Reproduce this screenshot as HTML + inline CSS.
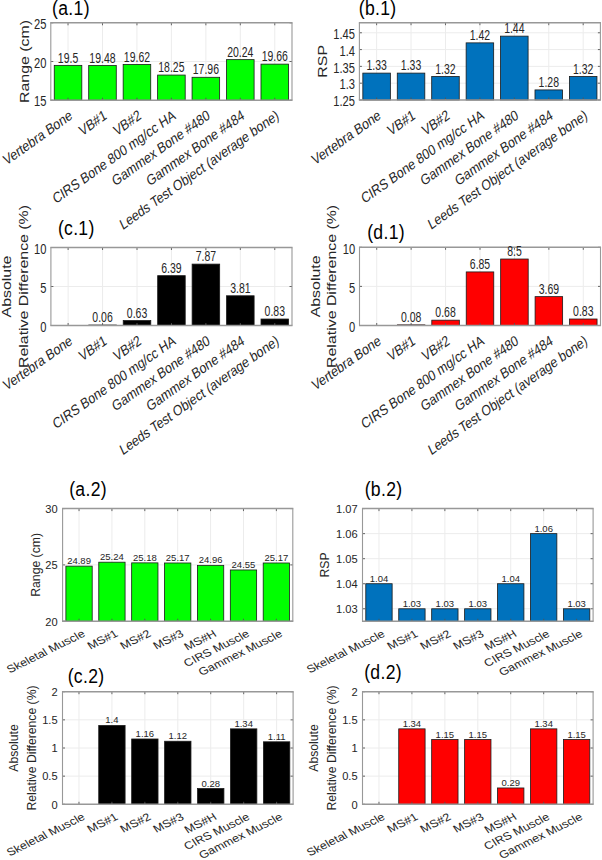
<!DOCTYPE html>
<html><head><meta charset="utf-8"><style>
html,body{margin:0;padding:0;background:#fff;width:602px;height:860px;overflow:hidden}
svg{display:block}
text{font-family:"Liberation Sans", sans-serif}
</style></head><body>
<svg width="602" height="860" viewBox="0 0 602 860">
<rect width="602" height="860" fill="#fff"/>
<line x1="68.03" y1="22.8" x2="68.03" y2="100.2" stroke="#ececec" stroke-width="1"/>
<line x1="102.49" y1="22.8" x2="102.49" y2="100.2" stroke="#ececec" stroke-width="1"/>
<line x1="136.94" y1="22.8" x2="136.94" y2="100.2" stroke="#ececec" stroke-width="1"/>
<line x1="171.4" y1="22.8" x2="171.4" y2="100.2" stroke="#ececec" stroke-width="1"/>
<line x1="205.86" y1="22.8" x2="205.86" y2="100.2" stroke="#ececec" stroke-width="1"/>
<line x1="240.31" y1="22.8" x2="240.31" y2="100.2" stroke="#ececec" stroke-width="1"/>
<line x1="274.77" y1="22.8" x2="274.77" y2="100.2" stroke="#ececec" stroke-width="1"/>
<line x1="50.8" y1="61.5" x2="292" y2="61.5" stroke="#ececec" stroke-width="1"/>
<rect x="54.25" y="65.37" width="27.57" height="34.83" fill="#00ff00" stroke="#1a1a1a" stroke-width="0.8"/>
<rect x="88.7" y="65.52" width="27.57" height="34.68" fill="#00ff00" stroke="#1a1a1a" stroke-width="0.8"/>
<rect x="123.16" y="64.44" width="27.57" height="35.76" fill="#00ff00" stroke="#1a1a1a" stroke-width="0.8"/>
<rect x="157.62" y="75.05" width="27.57" height="25.16" fill="#00ff00" stroke="#1a1a1a" stroke-width="0.8"/>
<rect x="192.07" y="77.29" width="27.57" height="22.91" fill="#00ff00" stroke="#1a1a1a" stroke-width="0.8"/>
<rect x="226.53" y="59.64" width="27.57" height="40.56" fill="#00ff00" stroke="#1a1a1a" stroke-width="0.8"/>
<rect x="260.99" y="64.13" width="27.57" height="36.07" fill="#00ff00" stroke="#1a1a1a" stroke-width="0.8"/>
<line x1="68.03" y1="100.2" x2="68.03" y2="97.7" stroke="#555555" stroke-width="0.9"/>
<line x1="68.03" y1="22.8" x2="68.03" y2="25.3" stroke="#555555" stroke-width="0.9"/>
<line x1="102.49" y1="100.2" x2="102.49" y2="97.7" stroke="#555555" stroke-width="0.9"/>
<line x1="102.49" y1="22.8" x2="102.49" y2="25.3" stroke="#555555" stroke-width="0.9"/>
<line x1="136.94" y1="100.2" x2="136.94" y2="97.7" stroke="#555555" stroke-width="0.9"/>
<line x1="136.94" y1="22.8" x2="136.94" y2="25.3" stroke="#555555" stroke-width="0.9"/>
<line x1="171.4" y1="100.2" x2="171.4" y2="97.7" stroke="#555555" stroke-width="0.9"/>
<line x1="171.4" y1="22.8" x2="171.4" y2="25.3" stroke="#555555" stroke-width="0.9"/>
<line x1="205.86" y1="100.2" x2="205.86" y2="97.7" stroke="#555555" stroke-width="0.9"/>
<line x1="205.86" y1="22.8" x2="205.86" y2="25.3" stroke="#555555" stroke-width="0.9"/>
<line x1="240.31" y1="100.2" x2="240.31" y2="97.7" stroke="#555555" stroke-width="0.9"/>
<line x1="240.31" y1="22.8" x2="240.31" y2="25.3" stroke="#555555" stroke-width="0.9"/>
<line x1="274.77" y1="100.2" x2="274.77" y2="97.7" stroke="#555555" stroke-width="0.9"/>
<line x1="274.77" y1="22.8" x2="274.77" y2="25.3" stroke="#555555" stroke-width="0.9"/>
<line x1="50.8" y1="100.2" x2="53.3" y2="100.2" stroke="#555555" stroke-width="0.9"/>
<line x1="292" y1="100.2" x2="289.5" y2="100.2" stroke="#555555" stroke-width="0.9"/>
<line x1="50.8" y1="61.5" x2="53.3" y2="61.5" stroke="#555555" stroke-width="0.9"/>
<line x1="292" y1="61.5" x2="289.5" y2="61.5" stroke="#555555" stroke-width="0.9"/>
<line x1="50.8" y1="22.8" x2="53.3" y2="22.8" stroke="#555555" stroke-width="0.9"/>
<line x1="292" y1="22.8" x2="289.5" y2="22.8" stroke="#555555" stroke-width="0.9"/>
<line x1="50.25" y1="22.8" x2="292.55" y2="22.8" stroke="#989898" stroke-width="1.5"/>
<line x1="50.25" y1="100.2" x2="292.55" y2="100.2" stroke="#989898" stroke-width="1.5"/>
<line x1="50.8" y1="22.8" x2="50.8" y2="100.2" stroke="#989898" stroke-width="1.1"/>
<line x1="292" y1="22.8" x2="292" y2="100.2" stroke="#989898" stroke-width="1.1"/>
<text transform="translate(68.03,62.57) scale(0.76,1)" font-size="13.8" text-anchor="middle" fill="#262626" >19.5</text>
<text transform="translate(102.49,62.72) scale(0.76,1)" font-size="13.8" text-anchor="middle" fill="#262626" >19.48</text>
<text transform="translate(136.94,61.64) scale(0.76,1)" font-size="13.8" text-anchor="middle" fill="#262626" >19.62</text>
<text transform="translate(171.4,72.25) scale(0.76,1)" font-size="13.8" text-anchor="middle" fill="#262626" >18.25</text>
<text transform="translate(205.86,74.49) scale(0.76,1)" font-size="13.8" text-anchor="middle" fill="#262626" >17.96</text>
<text transform="translate(240.31,56.84) scale(0.76,1)" font-size="13.8" text-anchor="middle" fill="#262626" >20.24</text>
<text transform="translate(274.77,61.33) scale(0.76,1)" font-size="13.8" text-anchor="middle" fill="#262626" >19.66</text>
<text transform="translate(46.4,106.4) scale(0.78,1)" font-size="14.3" text-anchor="end" fill="#262626" >15</text>
<text transform="translate(46.4,67.7) scale(0.78,1)" font-size="14.3" text-anchor="end" fill="#262626" >20</text>
<text transform="translate(46.4,29) scale(0.78,1)" font-size="14.3" text-anchor="end" fill="#262626" >25</text>
<text transform="translate(28.6,61.5) scale(0.78,1) rotate(-90)" font-size="15.9" text-anchor="middle" fill="#262626">Range (cm)</text>
<text transform="translate(73.03,118.2) scale(0.81,1) rotate(-30)" font-size="14.9" text-anchor="end" fill="#262626" >Vertebra Bone</text>
<text transform="translate(107.49,118.2) scale(0.81,1) rotate(-30)" font-size="14.9" text-anchor="end" fill="#262626" >VB#1</text>
<text transform="translate(141.94,118.2) scale(0.81,1) rotate(-30)" font-size="14.9" text-anchor="end" fill="#262626" >VB#2</text>
<text transform="translate(176.4,118.2) scale(0.81,1) rotate(-30)" font-size="14.9" text-anchor="end" fill="#262626" >CIRS Bone 800 mg/cc HA</text>
<text transform="translate(210.86,118.2) scale(0.81,1) rotate(-30)" font-size="14.9" text-anchor="end" fill="#262626" >Gammex Bone #480</text>
<text transform="translate(245.31,118.2) scale(0.81,1) rotate(-30)" font-size="14.9" text-anchor="end" fill="#262626" >Gammex Bone #484</text>
<text transform="translate(279.77,118.2) scale(0.81,1) rotate(-30)" font-size="14.9" text-anchor="end" fill="#262626" >Leeds Test Object (average bone)</text>
<text transform="translate(52.1,15) scale(1,1.1)" font-size="17.6" text-anchor="start" fill="#000" letter-spacing="0.3">(a.1)</text>
<line x1="376.61" y1="22.7" x2="376.61" y2="100" stroke="#ececec" stroke-width="1"/>
<line x1="411.04" y1="22.7" x2="411.04" y2="100" stroke="#ececec" stroke-width="1"/>
<line x1="445.47" y1="22.7" x2="445.47" y2="100" stroke="#ececec" stroke-width="1"/>
<line x1="479.9" y1="22.7" x2="479.9" y2="100" stroke="#ececec" stroke-width="1"/>
<line x1="514.33" y1="22.7" x2="514.33" y2="100" stroke="#ececec" stroke-width="1"/>
<line x1="548.76" y1="22.7" x2="548.76" y2="100" stroke="#ececec" stroke-width="1"/>
<line x1="583.19" y1="22.7" x2="583.19" y2="100" stroke="#ececec" stroke-width="1"/>
<line x1="359.4" y1="83.2" x2="600.4" y2="83.2" stroke="#ececec" stroke-width="1"/>
<line x1="359.4" y1="66.39" x2="600.4" y2="66.39" stroke="#ececec" stroke-width="1"/>
<line x1="359.4" y1="49.59" x2="600.4" y2="49.59" stroke="#ececec" stroke-width="1"/>
<line x1="359.4" y1="32.78" x2="600.4" y2="32.78" stroke="#ececec" stroke-width="1"/>
<rect x="362.84" y="73.11" width="27.54" height="26.89" fill="#0072bd" stroke="#1a1a1a" stroke-width="0.8"/>
<rect x="397.27" y="73.11" width="27.54" height="26.89" fill="#0072bd" stroke="#1a1a1a" stroke-width="0.8"/>
<rect x="431.7" y="76.47" width="27.54" height="23.53" fill="#0072bd" stroke="#1a1a1a" stroke-width="0.8"/>
<rect x="466.13" y="42.87" width="27.54" height="57.13" fill="#0072bd" stroke="#1a1a1a" stroke-width="0.8"/>
<rect x="500.56" y="36.14" width="27.54" height="63.86" fill="#0072bd" stroke="#1a1a1a" stroke-width="0.8"/>
<rect x="534.99" y="89.92" width="27.54" height="10.08" fill="#0072bd" stroke="#1a1a1a" stroke-width="0.8"/>
<rect x="569.41" y="76.47" width="27.54" height="23.53" fill="#0072bd" stroke="#1a1a1a" stroke-width="0.8"/>
<line x1="376.61" y1="100" x2="376.61" y2="97.5" stroke="#555555" stroke-width="0.9"/>
<line x1="376.61" y1="22.7" x2="376.61" y2="25.2" stroke="#555555" stroke-width="0.9"/>
<line x1="411.04" y1="100" x2="411.04" y2="97.5" stroke="#555555" stroke-width="0.9"/>
<line x1="411.04" y1="22.7" x2="411.04" y2="25.2" stroke="#555555" stroke-width="0.9"/>
<line x1="445.47" y1="100" x2="445.47" y2="97.5" stroke="#555555" stroke-width="0.9"/>
<line x1="445.47" y1="22.7" x2="445.47" y2="25.2" stroke="#555555" stroke-width="0.9"/>
<line x1="479.9" y1="100" x2="479.9" y2="97.5" stroke="#555555" stroke-width="0.9"/>
<line x1="479.9" y1="22.7" x2="479.9" y2="25.2" stroke="#555555" stroke-width="0.9"/>
<line x1="514.33" y1="100" x2="514.33" y2="97.5" stroke="#555555" stroke-width="0.9"/>
<line x1="514.33" y1="22.7" x2="514.33" y2="25.2" stroke="#555555" stroke-width="0.9"/>
<line x1="548.76" y1="100" x2="548.76" y2="97.5" stroke="#555555" stroke-width="0.9"/>
<line x1="548.76" y1="22.7" x2="548.76" y2="25.2" stroke="#555555" stroke-width="0.9"/>
<line x1="583.19" y1="100" x2="583.19" y2="97.5" stroke="#555555" stroke-width="0.9"/>
<line x1="583.19" y1="22.7" x2="583.19" y2="25.2" stroke="#555555" stroke-width="0.9"/>
<line x1="359.4" y1="100" x2="361.9" y2="100" stroke="#555555" stroke-width="0.9"/>
<line x1="600.4" y1="100" x2="597.9" y2="100" stroke="#555555" stroke-width="0.9"/>
<line x1="359.4" y1="83.2" x2="361.9" y2="83.2" stroke="#555555" stroke-width="0.9"/>
<line x1="600.4" y1="83.2" x2="597.9" y2="83.2" stroke="#555555" stroke-width="0.9"/>
<line x1="359.4" y1="66.39" x2="361.9" y2="66.39" stroke="#555555" stroke-width="0.9"/>
<line x1="600.4" y1="66.39" x2="597.9" y2="66.39" stroke="#555555" stroke-width="0.9"/>
<line x1="359.4" y1="49.59" x2="361.9" y2="49.59" stroke="#555555" stroke-width="0.9"/>
<line x1="600.4" y1="49.59" x2="597.9" y2="49.59" stroke="#555555" stroke-width="0.9"/>
<line x1="359.4" y1="32.78" x2="361.9" y2="32.78" stroke="#555555" stroke-width="0.9"/>
<line x1="600.4" y1="32.78" x2="597.9" y2="32.78" stroke="#555555" stroke-width="0.9"/>
<line x1="358.85" y1="22.7" x2="600.95" y2="22.7" stroke="#989898" stroke-width="1.5"/>
<line x1="358.85" y1="100" x2="600.95" y2="100" stroke="#989898" stroke-width="1.5"/>
<line x1="359.4" y1="22.7" x2="359.4" y2="100" stroke="#989898" stroke-width="1.1"/>
<line x1="600.4" y1="22.7" x2="600.4" y2="100" stroke="#989898" stroke-width="1.1"/>
<text transform="translate(376.61,70.31) scale(0.76,1)" font-size="13.8" text-anchor="middle" fill="#262626" >1.33</text>
<text transform="translate(411.04,70.31) scale(0.76,1)" font-size="13.8" text-anchor="middle" fill="#262626" >1.33</text>
<text transform="translate(445.47,73.67) scale(0.76,1)" font-size="13.8" text-anchor="middle" fill="#262626" >1.32</text>
<text transform="translate(479.9,40.07) scale(0.76,1)" font-size="13.8" text-anchor="middle" fill="#262626" >1.42</text>
<text transform="translate(514.33,33.34) scale(0.76,1)" font-size="13.8" text-anchor="middle" fill="#262626" >1.44</text>
<text transform="translate(548.76,87.12) scale(0.76,1)" font-size="13.8" text-anchor="middle" fill="#262626" >1.28</text>
<text transform="translate(583.19,73.67) scale(0.76,1)" font-size="13.8" text-anchor="middle" fill="#262626" >1.32</text>
<text transform="translate(355,106.2) scale(0.78,1)" font-size="14.3" text-anchor="end" fill="#262626" >1.25</text>
<text transform="translate(355,89.4) scale(0.78,1)" font-size="14.3" text-anchor="end" fill="#262626" >1.3</text>
<text transform="translate(355,72.59) scale(0.78,1)" font-size="14.3" text-anchor="end" fill="#262626" >1.35</text>
<text transform="translate(355,55.79) scale(0.78,1)" font-size="14.3" text-anchor="end" fill="#262626" >1.4</text>
<text transform="translate(355,38.98) scale(0.78,1)" font-size="14.3" text-anchor="end" fill="#262626" >1.45</text>
<text transform="translate(327.4,61.35) scale(0.78,1) rotate(-90)" font-size="15.9" text-anchor="middle" fill="#262626">RSP</text>
<text transform="translate(381.61,118) scale(0.81,1) rotate(-30)" font-size="14.9" text-anchor="end" fill="#262626" >Vertebra Bone</text>
<text transform="translate(416.04,118) scale(0.81,1) rotate(-30)" font-size="14.9" text-anchor="end" fill="#262626" >VB#1</text>
<text transform="translate(450.47,118) scale(0.81,1) rotate(-30)" font-size="14.9" text-anchor="end" fill="#262626" >VB#2</text>
<text transform="translate(484.9,118) scale(0.81,1) rotate(-30)" font-size="14.9" text-anchor="end" fill="#262626" >CIRS Bone 800 mg/cc HA</text>
<text transform="translate(519.33,118) scale(0.81,1) rotate(-30)" font-size="14.9" text-anchor="end" fill="#262626" >Gammex Bone #480</text>
<text transform="translate(553.76,118) scale(0.81,1) rotate(-30)" font-size="14.9" text-anchor="end" fill="#262626" >Gammex Bone #484</text>
<text transform="translate(588.19,118) scale(0.81,1) rotate(-30)" font-size="14.9" text-anchor="end" fill="#262626" >Leeds Test Object (average bone)</text>
<text transform="translate(358.8,15) scale(1,1.1)" font-size="17.6" text-anchor="start" fill="#000" letter-spacing="0.3">(b.1)</text>
<line x1="68.12" y1="247.5" x2="68.12" y2="325.5" stroke="#ececec" stroke-width="1"/>
<line x1="102.56" y1="247.5" x2="102.56" y2="325.5" stroke="#ececec" stroke-width="1"/>
<line x1="137.01" y1="247.5" x2="137.01" y2="325.5" stroke="#ececec" stroke-width="1"/>
<line x1="171.45" y1="247.5" x2="171.45" y2="325.5" stroke="#ececec" stroke-width="1"/>
<line x1="205.89" y1="247.5" x2="205.89" y2="325.5" stroke="#ececec" stroke-width="1"/>
<line x1="240.34" y1="247.5" x2="240.34" y2="325.5" stroke="#ececec" stroke-width="1"/>
<line x1="274.78" y1="247.5" x2="274.78" y2="325.5" stroke="#ececec" stroke-width="1"/>
<line x1="50.9" y1="286.5" x2="292" y2="286.5" stroke="#ececec" stroke-width="1"/>
<rect x="54.34" y="325.5" width="27.55" height="0" fill="#000000" stroke="#1a1a1a" stroke-width="0.8"/>
<rect x="88.79" y="325.03" width="27.55" height="0.47" fill="#000000" stroke="#1a1a1a" stroke-width="0.8"/>
<rect x="123.23" y="320.59" width="27.55" height="4.91" fill="#000000" stroke="#1a1a1a" stroke-width="0.8"/>
<rect x="157.67" y="275.66" width="27.55" height="49.84" fill="#000000" stroke="#1a1a1a" stroke-width="0.8"/>
<rect x="192.12" y="264.11" width="27.55" height="61.39" fill="#000000" stroke="#1a1a1a" stroke-width="0.8"/>
<rect x="226.56" y="295.78" width="27.55" height="29.72" fill="#000000" stroke="#1a1a1a" stroke-width="0.8"/>
<rect x="261" y="319.03" width="27.55" height="6.47" fill="#000000" stroke="#1a1a1a" stroke-width="0.8"/>
<line x1="68.12" y1="325.5" x2="68.12" y2="323" stroke="#555555" stroke-width="0.9"/>
<line x1="68.12" y1="247.5" x2="68.12" y2="250" stroke="#555555" stroke-width="0.9"/>
<line x1="102.56" y1="325.5" x2="102.56" y2="323" stroke="#555555" stroke-width="0.9"/>
<line x1="102.56" y1="247.5" x2="102.56" y2="250" stroke="#555555" stroke-width="0.9"/>
<line x1="137.01" y1="325.5" x2="137.01" y2="323" stroke="#555555" stroke-width="0.9"/>
<line x1="137.01" y1="247.5" x2="137.01" y2="250" stroke="#555555" stroke-width="0.9"/>
<line x1="171.45" y1="325.5" x2="171.45" y2="323" stroke="#555555" stroke-width="0.9"/>
<line x1="171.45" y1="247.5" x2="171.45" y2="250" stroke="#555555" stroke-width="0.9"/>
<line x1="205.89" y1="325.5" x2="205.89" y2="323" stroke="#555555" stroke-width="0.9"/>
<line x1="205.89" y1="247.5" x2="205.89" y2="250" stroke="#555555" stroke-width="0.9"/>
<line x1="240.34" y1="325.5" x2="240.34" y2="323" stroke="#555555" stroke-width="0.9"/>
<line x1="240.34" y1="247.5" x2="240.34" y2="250" stroke="#555555" stroke-width="0.9"/>
<line x1="274.78" y1="325.5" x2="274.78" y2="323" stroke="#555555" stroke-width="0.9"/>
<line x1="274.78" y1="247.5" x2="274.78" y2="250" stroke="#555555" stroke-width="0.9"/>
<line x1="50.9" y1="325.5" x2="53.4" y2="325.5" stroke="#555555" stroke-width="0.9"/>
<line x1="292" y1="325.5" x2="289.5" y2="325.5" stroke="#555555" stroke-width="0.9"/>
<line x1="50.9" y1="286.5" x2="53.4" y2="286.5" stroke="#555555" stroke-width="0.9"/>
<line x1="292" y1="286.5" x2="289.5" y2="286.5" stroke="#555555" stroke-width="0.9"/>
<line x1="50.9" y1="247.5" x2="53.4" y2="247.5" stroke="#555555" stroke-width="0.9"/>
<line x1="292" y1="247.5" x2="289.5" y2="247.5" stroke="#555555" stroke-width="0.9"/>
<line x1="50.35" y1="247.5" x2="292.55" y2="247.5" stroke="#989898" stroke-width="1.5"/>
<line x1="50.35" y1="325.5" x2="292.55" y2="325.5" stroke="#989898" stroke-width="1.5"/>
<line x1="50.9" y1="247.5" x2="50.9" y2="325.5" stroke="#989898" stroke-width="1.1"/>
<line x1="292" y1="247.5" x2="292" y2="325.5" stroke="#989898" stroke-width="1.1"/>
<text transform="translate(102.56,322.23) scale(0.76,1)" font-size="13.8" text-anchor="middle" fill="#262626" >0.06</text>
<text transform="translate(137.01,317.79) scale(0.76,1)" font-size="13.8" text-anchor="middle" fill="#262626" >0.63</text>
<text transform="translate(171.45,272.86) scale(0.76,1)" font-size="13.8" text-anchor="middle" fill="#262626" >6.39</text>
<text transform="translate(205.89,261.31) scale(0.76,1)" font-size="13.8" text-anchor="middle" fill="#262626" >7.87</text>
<text transform="translate(240.34,292.98) scale(0.76,1)" font-size="13.8" text-anchor="middle" fill="#262626" >3.81</text>
<text transform="translate(274.78,316.23) scale(0.76,1)" font-size="13.8" text-anchor="middle" fill="#262626" >0.83</text>
<text transform="translate(46.5,331.7) scale(0.78,1)" font-size="14.3" text-anchor="end" fill="#262626" >0</text>
<text transform="translate(46.5,292.7) scale(0.78,1)" font-size="14.3" text-anchor="end" fill="#262626" >5</text>
<text transform="translate(46.5,253.7) scale(0.78,1)" font-size="14.3" text-anchor="end" fill="#262626" >10</text>
<text transform="translate(11.3,286.5) scale(0.78,1) rotate(-90)" font-size="15.9" text-anchor="middle" fill="#262626">Absolute</text>
<text transform="translate(27.9,286.5) scale(0.78,1) rotate(-90)" font-size="15.9" text-anchor="middle" fill="#262626">Relative Difference (%)</text>
<text transform="translate(73.12,343.5) scale(0.81,1) rotate(-30)" font-size="14.9" text-anchor="end" fill="#262626" >Vertebra Bone</text>
<text transform="translate(107.56,343.5) scale(0.81,1) rotate(-30)" font-size="14.9" text-anchor="end" fill="#262626" >VB#1</text>
<text transform="translate(142.01,343.5) scale(0.81,1) rotate(-30)" font-size="14.9" text-anchor="end" fill="#262626" >VB#2</text>
<text transform="translate(176.45,343.5) scale(0.81,1) rotate(-30)" font-size="14.9" text-anchor="end" fill="#262626" >CIRS Bone 800 mg/cc HA</text>
<text transform="translate(210.89,343.5) scale(0.81,1) rotate(-30)" font-size="14.9" text-anchor="end" fill="#262626" >Gammex Bone #480</text>
<text transform="translate(245.34,343.5) scale(0.81,1) rotate(-30)" font-size="14.9" text-anchor="end" fill="#262626" >Gammex Bone #484</text>
<text transform="translate(279.78,343.5) scale(0.81,1) rotate(-30)" font-size="14.9" text-anchor="end" fill="#262626" >Leeds Test Object (average bone)</text>
<text transform="translate(57.9,235.4) scale(1,1.1)" font-size="17.6" text-anchor="start" fill="#000" letter-spacing="0.3">(c.1)</text>
<line x1="376.71" y1="247.3" x2="376.71" y2="325.5" stroke="#ececec" stroke-width="1"/>
<line x1="411.14" y1="247.3" x2="411.14" y2="325.5" stroke="#ececec" stroke-width="1"/>
<line x1="445.57" y1="247.3" x2="445.57" y2="325.5" stroke="#ececec" stroke-width="1"/>
<line x1="480" y1="247.3" x2="480" y2="325.5" stroke="#ececec" stroke-width="1"/>
<line x1="514.43" y1="247.3" x2="514.43" y2="325.5" stroke="#ececec" stroke-width="1"/>
<line x1="548.86" y1="247.3" x2="548.86" y2="325.5" stroke="#ececec" stroke-width="1"/>
<line x1="583.29" y1="247.3" x2="583.29" y2="325.5" stroke="#ececec" stroke-width="1"/>
<line x1="359.5" y1="286.4" x2="600.5" y2="286.4" stroke="#ececec" stroke-width="1"/>
<rect x="362.94" y="325.5" width="27.54" height="0" fill="#ff0000" stroke="#1a1a1a" stroke-width="0.8"/>
<rect x="397.37" y="324.87" width="27.54" height="0.63" fill="#ff0000" stroke="#1a1a1a" stroke-width="0.8"/>
<rect x="431.8" y="320.18" width="27.54" height="5.32" fill="#ff0000" stroke="#1a1a1a" stroke-width="0.8"/>
<rect x="466.23" y="271.93" width="27.54" height="53.57" fill="#ff0000" stroke="#1a1a1a" stroke-width="0.8"/>
<rect x="500.66" y="259.03" width="27.54" height="66.47" fill="#ff0000" stroke="#1a1a1a" stroke-width="0.8"/>
<rect x="535.09" y="296.64" width="27.54" height="28.86" fill="#ff0000" stroke="#1a1a1a" stroke-width="0.8"/>
<rect x="569.51" y="319.01" width="27.54" height="6.49" fill="#ff0000" stroke="#1a1a1a" stroke-width="0.8"/>
<line x1="376.71" y1="325.5" x2="376.71" y2="323" stroke="#555555" stroke-width="0.9"/>
<line x1="376.71" y1="247.3" x2="376.71" y2="249.8" stroke="#555555" stroke-width="0.9"/>
<line x1="411.14" y1="325.5" x2="411.14" y2="323" stroke="#555555" stroke-width="0.9"/>
<line x1="411.14" y1="247.3" x2="411.14" y2="249.8" stroke="#555555" stroke-width="0.9"/>
<line x1="445.57" y1="325.5" x2="445.57" y2="323" stroke="#555555" stroke-width="0.9"/>
<line x1="445.57" y1="247.3" x2="445.57" y2="249.8" stroke="#555555" stroke-width="0.9"/>
<line x1="480" y1="325.5" x2="480" y2="323" stroke="#555555" stroke-width="0.9"/>
<line x1="480" y1="247.3" x2="480" y2="249.8" stroke="#555555" stroke-width="0.9"/>
<line x1="514.43" y1="325.5" x2="514.43" y2="323" stroke="#555555" stroke-width="0.9"/>
<line x1="514.43" y1="247.3" x2="514.43" y2="249.8" stroke="#555555" stroke-width="0.9"/>
<line x1="548.86" y1="325.5" x2="548.86" y2="323" stroke="#555555" stroke-width="0.9"/>
<line x1="548.86" y1="247.3" x2="548.86" y2="249.8" stroke="#555555" stroke-width="0.9"/>
<line x1="583.29" y1="325.5" x2="583.29" y2="323" stroke="#555555" stroke-width="0.9"/>
<line x1="583.29" y1="247.3" x2="583.29" y2="249.8" stroke="#555555" stroke-width="0.9"/>
<line x1="359.5" y1="325.5" x2="362" y2="325.5" stroke="#555555" stroke-width="0.9"/>
<line x1="600.5" y1="325.5" x2="598" y2="325.5" stroke="#555555" stroke-width="0.9"/>
<line x1="359.5" y1="286.4" x2="362" y2="286.4" stroke="#555555" stroke-width="0.9"/>
<line x1="600.5" y1="286.4" x2="598" y2="286.4" stroke="#555555" stroke-width="0.9"/>
<line x1="359.5" y1="247.3" x2="362" y2="247.3" stroke="#555555" stroke-width="0.9"/>
<line x1="600.5" y1="247.3" x2="598" y2="247.3" stroke="#555555" stroke-width="0.9"/>
<line x1="358.95" y1="247.3" x2="601.05" y2="247.3" stroke="#989898" stroke-width="1.5"/>
<line x1="358.95" y1="325.5" x2="601.05" y2="325.5" stroke="#989898" stroke-width="1.5"/>
<line x1="359.5" y1="247.3" x2="359.5" y2="325.5" stroke="#989898" stroke-width="1.1"/>
<line x1="600.5" y1="247.3" x2="600.5" y2="325.5" stroke="#989898" stroke-width="1.1"/>
<text transform="translate(411.14,322.07) scale(0.76,1)" font-size="13.8" text-anchor="middle" fill="#262626" >0.08</text>
<text transform="translate(445.57,317.38) scale(0.76,1)" font-size="13.8" text-anchor="middle" fill="#262626" >0.68</text>
<text transform="translate(480,269.13) scale(0.76,1)" font-size="13.8" text-anchor="middle" fill="#262626" >6.85</text>
<text transform="translate(514.43,256.23) scale(0.76,1)" font-size="13.8" text-anchor="middle" fill="#262626" >8.5</text>
<text transform="translate(548.86,293.84) scale(0.76,1)" font-size="13.8" text-anchor="middle" fill="#262626" >3.69</text>
<text transform="translate(583.29,316.21) scale(0.76,1)" font-size="13.8" text-anchor="middle" fill="#262626" >0.83</text>
<text transform="translate(355.1,331.7) scale(0.78,1)" font-size="14.3" text-anchor="end" fill="#262626" >0</text>
<text transform="translate(355.1,292.6) scale(0.78,1)" font-size="14.3" text-anchor="end" fill="#262626" >5</text>
<text transform="translate(355.1,253.5) scale(0.78,1)" font-size="14.3" text-anchor="end" fill="#262626" >10</text>
<text transform="translate(319.8,286.4) scale(0.78,1) rotate(-90)" font-size="15.9" text-anchor="middle" fill="#262626">Absolute</text>
<text transform="translate(336.4,286.4) scale(0.78,1) rotate(-90)" font-size="15.9" text-anchor="middle" fill="#262626">Relative Difference (%)</text>
<text transform="translate(381.71,343.5) scale(0.81,1) rotate(-30)" font-size="14.9" text-anchor="end" fill="#262626" >Vertebra Bone</text>
<text transform="translate(416.14,343.5) scale(0.81,1) rotate(-30)" font-size="14.9" text-anchor="end" fill="#262626" >VB#1</text>
<text transform="translate(450.57,343.5) scale(0.81,1) rotate(-30)" font-size="14.9" text-anchor="end" fill="#262626" >VB#2</text>
<text transform="translate(485,343.5) scale(0.81,1) rotate(-30)" font-size="14.9" text-anchor="end" fill="#262626" >CIRS Bone 800 mg/cc HA</text>
<text transform="translate(519.43,343.5) scale(0.81,1) rotate(-30)" font-size="14.9" text-anchor="end" fill="#262626" >Gammex Bone #480</text>
<text transform="translate(553.86,343.5) scale(0.81,1) rotate(-30)" font-size="14.9" text-anchor="end" fill="#262626" >Gammex Bone #484</text>
<text transform="translate(588.29,343.5) scale(0.81,1) rotate(-30)" font-size="14.9" text-anchor="end" fill="#262626" >Leeds Test Object (average bone)</text>
<text transform="translate(367.2,239.4) scale(1,1.1)" font-size="17.6" text-anchor="start" fill="#000" letter-spacing="0.3">(d.1)</text>
<line x1="79.04" y1="508.6" x2="79.04" y2="621.2" stroke="#ececec" stroke-width="1"/>
<line x1="111.93" y1="508.6" x2="111.93" y2="621.2" stroke="#ececec" stroke-width="1"/>
<line x1="144.81" y1="508.6" x2="144.81" y2="621.2" stroke="#ececec" stroke-width="1"/>
<line x1="177.7" y1="508.6" x2="177.7" y2="621.2" stroke="#ececec" stroke-width="1"/>
<line x1="210.59" y1="508.6" x2="210.59" y2="621.2" stroke="#ececec" stroke-width="1"/>
<line x1="243.47" y1="508.6" x2="243.47" y2="621.2" stroke="#ececec" stroke-width="1"/>
<line x1="276.36" y1="508.6" x2="276.36" y2="621.2" stroke="#ececec" stroke-width="1"/>
<line x1="62.6" y1="564.9" x2="292.8" y2="564.9" stroke="#ececec" stroke-width="1"/>
<rect x="65.89" y="566.14" width="26.31" height="55.06" fill="#00ff00" stroke="#1a1a1a" stroke-width="0.8"/>
<rect x="98.77" y="562.2" width="26.31" height="59" fill="#00ff00" stroke="#1a1a1a" stroke-width="0.8"/>
<rect x="131.66" y="562.87" width="26.31" height="58.33" fill="#00ff00" stroke="#1a1a1a" stroke-width="0.8"/>
<rect x="164.55" y="562.99" width="26.31" height="58.21" fill="#00ff00" stroke="#1a1a1a" stroke-width="0.8"/>
<rect x="197.43" y="565.35" width="26.31" height="55.85" fill="#00ff00" stroke="#1a1a1a" stroke-width="0.8"/>
<rect x="230.32" y="569.97" width="26.31" height="51.23" fill="#00ff00" stroke="#1a1a1a" stroke-width="0.8"/>
<rect x="263.2" y="562.99" width="26.31" height="58.21" fill="#00ff00" stroke="#1a1a1a" stroke-width="0.8"/>
<line x1="79.04" y1="621.2" x2="79.04" y2="618.7" stroke="#555555" stroke-width="0.9"/>
<line x1="79.04" y1="508.6" x2="79.04" y2="511.1" stroke="#555555" stroke-width="0.9"/>
<line x1="111.93" y1="621.2" x2="111.93" y2="618.7" stroke="#555555" stroke-width="0.9"/>
<line x1="111.93" y1="508.6" x2="111.93" y2="511.1" stroke="#555555" stroke-width="0.9"/>
<line x1="144.81" y1="621.2" x2="144.81" y2="618.7" stroke="#555555" stroke-width="0.9"/>
<line x1="144.81" y1="508.6" x2="144.81" y2="511.1" stroke="#555555" stroke-width="0.9"/>
<line x1="177.7" y1="621.2" x2="177.7" y2="618.7" stroke="#555555" stroke-width="0.9"/>
<line x1="177.7" y1="508.6" x2="177.7" y2="511.1" stroke="#555555" stroke-width="0.9"/>
<line x1="210.59" y1="621.2" x2="210.59" y2="618.7" stroke="#555555" stroke-width="0.9"/>
<line x1="210.59" y1="508.6" x2="210.59" y2="511.1" stroke="#555555" stroke-width="0.9"/>
<line x1="243.47" y1="621.2" x2="243.47" y2="618.7" stroke="#555555" stroke-width="0.9"/>
<line x1="243.47" y1="508.6" x2="243.47" y2="511.1" stroke="#555555" stroke-width="0.9"/>
<line x1="276.36" y1="621.2" x2="276.36" y2="618.7" stroke="#555555" stroke-width="0.9"/>
<line x1="276.36" y1="508.6" x2="276.36" y2="511.1" stroke="#555555" stroke-width="0.9"/>
<line x1="62.6" y1="621.2" x2="65.1" y2="621.2" stroke="#555555" stroke-width="0.9"/>
<line x1="292.8" y1="621.2" x2="290.3" y2="621.2" stroke="#555555" stroke-width="0.9"/>
<line x1="62.6" y1="564.9" x2="65.1" y2="564.9" stroke="#555555" stroke-width="0.9"/>
<line x1="292.8" y1="564.9" x2="290.3" y2="564.9" stroke="#555555" stroke-width="0.9"/>
<line x1="62.6" y1="508.6" x2="65.1" y2="508.6" stroke="#555555" stroke-width="0.9"/>
<line x1="292.8" y1="508.6" x2="290.3" y2="508.6" stroke="#555555" stroke-width="0.9"/>
<line x1="62.05" y1="508.6" x2="293.35" y2="508.6" stroke="#989898" stroke-width="1.5"/>
<line x1="62.05" y1="621.2" x2="293.35" y2="621.2" stroke="#989898" stroke-width="1.5"/>
<line x1="62.6" y1="508.6" x2="62.6" y2="621.2" stroke="#989898" stroke-width="1.1"/>
<line x1="292.8" y1="508.6" x2="292.8" y2="621.2" stroke="#989898" stroke-width="1.1"/>
<text transform="translate(79.04,564.14)" font-size="9.5" text-anchor="middle" fill="#262626" >24.89</text>
<text transform="translate(111.93,560.2)" font-size="9.5" text-anchor="middle" fill="#262626" >25.24</text>
<text transform="translate(144.81,560.87)" font-size="9.5" text-anchor="middle" fill="#262626" >25.18</text>
<text transform="translate(177.7,560.99)" font-size="9.5" text-anchor="middle" fill="#262626" >25.17</text>
<text transform="translate(210.59,563.35)" font-size="9.5" text-anchor="middle" fill="#262626" >24.96</text>
<text transform="translate(243.47,567.97)" font-size="9.5" text-anchor="middle" fill="#262626" >24.55</text>
<text transform="translate(276.36,560.99)" font-size="9.5" text-anchor="middle" fill="#262626" >25.17</text>
<text transform="translate(57.7,625.5) scale(1.07,1)" font-size="10.4" text-anchor="end" fill="#262626" >20</text>
<text transform="translate(57.7,569.2) scale(1.07,1)" font-size="10.4" text-anchor="end" fill="#262626" >25</text>
<text transform="translate(57.7,512.9) scale(1.07,1)" font-size="10.4" text-anchor="end" fill="#262626" >30</text>
<text transform="translate(40,564.9) scale(1.07,1) rotate(-90)" font-size="12.2" text-anchor="middle" fill="#262626">Range (cm)</text>
<text transform="translate(85.94,635.8) scale(1.17,1) rotate(-30)" font-size="10.75" text-anchor="end" fill="#262626" >Skeletal Muscle</text>
<text transform="translate(118.83,635.8) scale(1.17,1) rotate(-30)" font-size="10.75" text-anchor="end" fill="#262626" >MS#1</text>
<text transform="translate(151.71,635.8) scale(1.17,1) rotate(-30)" font-size="10.75" text-anchor="end" fill="#262626" >MS#2</text>
<text transform="translate(184.6,635.8) scale(1.17,1) rotate(-30)" font-size="10.75" text-anchor="end" fill="#262626" >MS#3</text>
<text transform="translate(217.49,635.8) scale(1.17,1) rotate(-30)" font-size="10.75" text-anchor="end" fill="#262626" >MS#H</text>
<text transform="translate(250.37,635.8) scale(1.17,1) rotate(-30)" font-size="10.75" text-anchor="end" fill="#262626" >CIRS Muscle</text>
<text transform="translate(283.26,635.8) scale(1.17,1) rotate(-30)" font-size="10.75" text-anchor="end" fill="#262626" >Gammex Muscle</text>
<text transform="translate(69.2,495.9) scale(1,1.1)" font-size="17.6" text-anchor="start" fill="#000" letter-spacing="0.3">(a.2)</text>
<line x1="378.97" y1="508.6" x2="378.97" y2="621.3" stroke="#ececec" stroke-width="1"/>
<line x1="411.91" y1="508.6" x2="411.91" y2="621.3" stroke="#ececec" stroke-width="1"/>
<line x1="444.86" y1="508.6" x2="444.86" y2="621.3" stroke="#ececec" stroke-width="1"/>
<line x1="477.8" y1="508.6" x2="477.8" y2="621.3" stroke="#ececec" stroke-width="1"/>
<line x1="510.74" y1="508.6" x2="510.74" y2="621.3" stroke="#ececec" stroke-width="1"/>
<line x1="543.69" y1="508.6" x2="543.69" y2="621.3" stroke="#ececec" stroke-width="1"/>
<line x1="576.63" y1="508.6" x2="576.63" y2="621.3" stroke="#ececec" stroke-width="1"/>
<line x1="362.5" y1="608.78" x2="593.1" y2="608.78" stroke="#ececec" stroke-width="1"/>
<line x1="362.5" y1="583.73" x2="593.1" y2="583.73" stroke="#ececec" stroke-width="1"/>
<line x1="362.5" y1="558.69" x2="593.1" y2="558.69" stroke="#ececec" stroke-width="1"/>
<line x1="362.5" y1="533.64" x2="593.1" y2="533.64" stroke="#ececec" stroke-width="1"/>
<rect x="365.79" y="583.73" width="26.35" height="37.57" fill="#0072bd" stroke="#1a1a1a" stroke-width="0.8"/>
<rect x="398.74" y="608.78" width="26.35" height="12.52" fill="#0072bd" stroke="#1a1a1a" stroke-width="0.8"/>
<rect x="431.68" y="608.78" width="26.35" height="12.52" fill="#0072bd" stroke="#1a1a1a" stroke-width="0.8"/>
<rect x="464.62" y="608.78" width="26.35" height="12.52" fill="#0072bd" stroke="#1a1a1a" stroke-width="0.8"/>
<rect x="497.57" y="583.73" width="26.35" height="37.57" fill="#0072bd" stroke="#1a1a1a" stroke-width="0.8"/>
<rect x="530.51" y="533.64" width="26.35" height="87.66" fill="#0072bd" stroke="#1a1a1a" stroke-width="0.8"/>
<rect x="563.45" y="608.78" width="26.35" height="12.52" fill="#0072bd" stroke="#1a1a1a" stroke-width="0.8"/>
<line x1="378.97" y1="621.3" x2="378.97" y2="618.8" stroke="#555555" stroke-width="0.9"/>
<line x1="378.97" y1="508.6" x2="378.97" y2="511.1" stroke="#555555" stroke-width="0.9"/>
<line x1="411.91" y1="621.3" x2="411.91" y2="618.8" stroke="#555555" stroke-width="0.9"/>
<line x1="411.91" y1="508.6" x2="411.91" y2="511.1" stroke="#555555" stroke-width="0.9"/>
<line x1="444.86" y1="621.3" x2="444.86" y2="618.8" stroke="#555555" stroke-width="0.9"/>
<line x1="444.86" y1="508.6" x2="444.86" y2="511.1" stroke="#555555" stroke-width="0.9"/>
<line x1="477.8" y1="621.3" x2="477.8" y2="618.8" stroke="#555555" stroke-width="0.9"/>
<line x1="477.8" y1="508.6" x2="477.8" y2="511.1" stroke="#555555" stroke-width="0.9"/>
<line x1="510.74" y1="621.3" x2="510.74" y2="618.8" stroke="#555555" stroke-width="0.9"/>
<line x1="510.74" y1="508.6" x2="510.74" y2="511.1" stroke="#555555" stroke-width="0.9"/>
<line x1="543.69" y1="621.3" x2="543.69" y2="618.8" stroke="#555555" stroke-width="0.9"/>
<line x1="543.69" y1="508.6" x2="543.69" y2="511.1" stroke="#555555" stroke-width="0.9"/>
<line x1="576.63" y1="621.3" x2="576.63" y2="618.8" stroke="#555555" stroke-width="0.9"/>
<line x1="576.63" y1="508.6" x2="576.63" y2="511.1" stroke="#555555" stroke-width="0.9"/>
<line x1="362.5" y1="608.78" x2="365" y2="608.78" stroke="#555555" stroke-width="0.9"/>
<line x1="593.1" y1="608.78" x2="590.6" y2="608.78" stroke="#555555" stroke-width="0.9"/>
<line x1="362.5" y1="583.73" x2="365" y2="583.73" stroke="#555555" stroke-width="0.9"/>
<line x1="593.1" y1="583.73" x2="590.6" y2="583.73" stroke="#555555" stroke-width="0.9"/>
<line x1="362.5" y1="558.69" x2="365" y2="558.69" stroke="#555555" stroke-width="0.9"/>
<line x1="593.1" y1="558.69" x2="590.6" y2="558.69" stroke="#555555" stroke-width="0.9"/>
<line x1="362.5" y1="533.64" x2="365" y2="533.64" stroke="#555555" stroke-width="0.9"/>
<line x1="593.1" y1="533.64" x2="590.6" y2="533.64" stroke="#555555" stroke-width="0.9"/>
<line x1="362.5" y1="508.6" x2="365" y2="508.6" stroke="#555555" stroke-width="0.9"/>
<line x1="593.1" y1="508.6" x2="590.6" y2="508.6" stroke="#555555" stroke-width="0.9"/>
<line x1="361.95" y1="508.6" x2="593.65" y2="508.6" stroke="#989898" stroke-width="1.5"/>
<line x1="361.95" y1="621.3" x2="593.65" y2="621.3" stroke="#989898" stroke-width="1.5"/>
<line x1="362.5" y1="508.6" x2="362.5" y2="621.3" stroke="#989898" stroke-width="1.1"/>
<line x1="593.1" y1="508.6" x2="593.1" y2="621.3" stroke="#989898" stroke-width="1.1"/>
<text transform="translate(378.97,581.73)" font-size="9.5" text-anchor="middle" fill="#262626" >1.04</text>
<text transform="translate(411.91,606.78)" font-size="9.5" text-anchor="middle" fill="#262626" >1.03</text>
<text transform="translate(444.86,606.78)" font-size="9.5" text-anchor="middle" fill="#262626" >1.03</text>
<text transform="translate(477.8,606.78)" font-size="9.5" text-anchor="middle" fill="#262626" >1.03</text>
<text transform="translate(510.74,581.73)" font-size="9.5" text-anchor="middle" fill="#262626" >1.04</text>
<text transform="translate(543.69,531.64)" font-size="9.5" text-anchor="middle" fill="#262626" >1.06</text>
<text transform="translate(576.63,606.78)" font-size="9.5" text-anchor="middle" fill="#262626" >1.03</text>
<text transform="translate(357.6,613.08) scale(1.07,1)" font-size="10.4" text-anchor="end" fill="#262626" >1.03</text>
<text transform="translate(357.6,588.03) scale(1.07,1)" font-size="10.4" text-anchor="end" fill="#262626" >1.04</text>
<text transform="translate(357.6,562.99) scale(1.07,1)" font-size="10.4" text-anchor="end" fill="#262626" >1.05</text>
<text transform="translate(357.6,537.94) scale(1.07,1)" font-size="10.4" text-anchor="end" fill="#262626" >1.06</text>
<text transform="translate(357.6,512.9) scale(1.07,1)" font-size="10.4" text-anchor="end" fill="#262626" >1.07</text>
<text transform="translate(328.9,564.95) scale(1.07,1) rotate(-90)" font-size="12.2" text-anchor="middle" fill="#262626">RSP</text>
<text transform="translate(385.87,635.9) scale(1.17,1) rotate(-30)" font-size="10.75" text-anchor="end" fill="#262626" >Skeletal Muscle</text>
<text transform="translate(418.81,635.9) scale(1.17,1) rotate(-30)" font-size="10.75" text-anchor="end" fill="#262626" >MS#1</text>
<text transform="translate(451.76,635.9) scale(1.17,1) rotate(-30)" font-size="10.75" text-anchor="end" fill="#262626" >MS#2</text>
<text transform="translate(484.7,635.9) scale(1.17,1) rotate(-30)" font-size="10.75" text-anchor="end" fill="#262626" >MS#3</text>
<text transform="translate(517.64,635.9) scale(1.17,1) rotate(-30)" font-size="10.75" text-anchor="end" fill="#262626" >MS#H</text>
<text transform="translate(550.59,635.9) scale(1.17,1) rotate(-30)" font-size="10.75" text-anchor="end" fill="#262626" >CIRS Muscle</text>
<text transform="translate(583.53,635.9) scale(1.17,1) rotate(-30)" font-size="10.75" text-anchor="end" fill="#262626" >Gammex Muscle</text>
<text transform="translate(364.7,495.9) scale(1,1.1)" font-size="17.6" text-anchor="start" fill="#000" letter-spacing="0.3">(b.2)</text>
<line x1="78.97" y1="691.7" x2="78.97" y2="804.3" stroke="#ececec" stroke-width="1"/>
<line x1="111.91" y1="691.7" x2="111.91" y2="804.3" stroke="#ececec" stroke-width="1"/>
<line x1="144.86" y1="691.7" x2="144.86" y2="804.3" stroke="#ececec" stroke-width="1"/>
<line x1="177.8" y1="691.7" x2="177.8" y2="804.3" stroke="#ececec" stroke-width="1"/>
<line x1="210.74" y1="691.7" x2="210.74" y2="804.3" stroke="#ececec" stroke-width="1"/>
<line x1="243.69" y1="691.7" x2="243.69" y2="804.3" stroke="#ececec" stroke-width="1"/>
<line x1="276.63" y1="691.7" x2="276.63" y2="804.3" stroke="#ececec" stroke-width="1"/>
<line x1="62.5" y1="776.15" x2="293.1" y2="776.15" stroke="#ececec" stroke-width="1"/>
<line x1="62.5" y1="748" x2="293.1" y2="748" stroke="#ececec" stroke-width="1"/>
<line x1="62.5" y1="719.85" x2="293.1" y2="719.85" stroke="#ececec" stroke-width="1"/>
<rect x="65.79" y="804.3" width="26.35" height="0" fill="#000000" stroke="#1a1a1a" stroke-width="0.8"/>
<rect x="98.74" y="725.48" width="26.35" height="78.82" fill="#000000" stroke="#1a1a1a" stroke-width="0.8"/>
<rect x="131.68" y="738.99" width="26.35" height="65.31" fill="#000000" stroke="#1a1a1a" stroke-width="0.8"/>
<rect x="164.62" y="741.24" width="26.35" height="63.06" fill="#000000" stroke="#1a1a1a" stroke-width="0.8"/>
<rect x="197.57" y="788.54" width="26.35" height="15.76" fill="#000000" stroke="#1a1a1a" stroke-width="0.8"/>
<rect x="230.51" y="728.86" width="26.35" height="75.44" fill="#000000" stroke="#1a1a1a" stroke-width="0.8"/>
<rect x="263.45" y="741.81" width="26.35" height="62.49" fill="#000000" stroke="#1a1a1a" stroke-width="0.8"/>
<line x1="78.97" y1="804.3" x2="78.97" y2="801.8" stroke="#555555" stroke-width="0.9"/>
<line x1="78.97" y1="691.7" x2="78.97" y2="694.2" stroke="#555555" stroke-width="0.9"/>
<line x1="111.91" y1="804.3" x2="111.91" y2="801.8" stroke="#555555" stroke-width="0.9"/>
<line x1="111.91" y1="691.7" x2="111.91" y2="694.2" stroke="#555555" stroke-width="0.9"/>
<line x1="144.86" y1="804.3" x2="144.86" y2="801.8" stroke="#555555" stroke-width="0.9"/>
<line x1="144.86" y1="691.7" x2="144.86" y2="694.2" stroke="#555555" stroke-width="0.9"/>
<line x1="177.8" y1="804.3" x2="177.8" y2="801.8" stroke="#555555" stroke-width="0.9"/>
<line x1="177.8" y1="691.7" x2="177.8" y2="694.2" stroke="#555555" stroke-width="0.9"/>
<line x1="210.74" y1="804.3" x2="210.74" y2="801.8" stroke="#555555" stroke-width="0.9"/>
<line x1="210.74" y1="691.7" x2="210.74" y2="694.2" stroke="#555555" stroke-width="0.9"/>
<line x1="243.69" y1="804.3" x2="243.69" y2="801.8" stroke="#555555" stroke-width="0.9"/>
<line x1="243.69" y1="691.7" x2="243.69" y2="694.2" stroke="#555555" stroke-width="0.9"/>
<line x1="276.63" y1="804.3" x2="276.63" y2="801.8" stroke="#555555" stroke-width="0.9"/>
<line x1="276.63" y1="691.7" x2="276.63" y2="694.2" stroke="#555555" stroke-width="0.9"/>
<line x1="62.5" y1="804.3" x2="65" y2="804.3" stroke="#555555" stroke-width="0.9"/>
<line x1="293.1" y1="804.3" x2="290.6" y2="804.3" stroke="#555555" stroke-width="0.9"/>
<line x1="62.5" y1="776.15" x2="65" y2="776.15" stroke="#555555" stroke-width="0.9"/>
<line x1="293.1" y1="776.15" x2="290.6" y2="776.15" stroke="#555555" stroke-width="0.9"/>
<line x1="62.5" y1="748" x2="65" y2="748" stroke="#555555" stroke-width="0.9"/>
<line x1="293.1" y1="748" x2="290.6" y2="748" stroke="#555555" stroke-width="0.9"/>
<line x1="62.5" y1="719.85" x2="65" y2="719.85" stroke="#555555" stroke-width="0.9"/>
<line x1="293.1" y1="719.85" x2="290.6" y2="719.85" stroke="#555555" stroke-width="0.9"/>
<line x1="62.5" y1="691.7" x2="65" y2="691.7" stroke="#555555" stroke-width="0.9"/>
<line x1="293.1" y1="691.7" x2="290.6" y2="691.7" stroke="#555555" stroke-width="0.9"/>
<line x1="61.95" y1="691.7" x2="293.65" y2="691.7" stroke="#989898" stroke-width="1.5"/>
<line x1="61.95" y1="804.3" x2="293.65" y2="804.3" stroke="#989898" stroke-width="1.5"/>
<line x1="62.5" y1="691.7" x2="62.5" y2="804.3" stroke="#989898" stroke-width="1.1"/>
<line x1="293.1" y1="691.7" x2="293.1" y2="804.3" stroke="#989898" stroke-width="1.1"/>
<text transform="translate(111.91,723.48)" font-size="9.5" text-anchor="middle" fill="#262626" >1.4</text>
<text transform="translate(144.86,736.99)" font-size="9.5" text-anchor="middle" fill="#262626" >1.16</text>
<text transform="translate(177.8,739.24)" font-size="9.5" text-anchor="middle" fill="#262626" >1.12</text>
<text transform="translate(210.74,786.54)" font-size="9.5" text-anchor="middle" fill="#262626" >0.28</text>
<text transform="translate(243.69,726.86)" font-size="9.5" text-anchor="middle" fill="#262626" >1.34</text>
<text transform="translate(276.63,739.81)" font-size="9.5" text-anchor="middle" fill="#262626" >1.11</text>
<text transform="translate(57.6,808.6) scale(1.07,1)" font-size="10.4" text-anchor="end" fill="#262626" >0</text>
<text transform="translate(57.6,780.45) scale(1.07,1)" font-size="10.4" text-anchor="end" fill="#262626" >0.5</text>
<text transform="translate(57.6,752.3) scale(1.07,1)" font-size="10.4" text-anchor="end" fill="#262626" >1</text>
<text transform="translate(57.6,724.15) scale(1.07,1)" font-size="10.4" text-anchor="end" fill="#262626" >1.5</text>
<text transform="translate(57.6,696) scale(1.07,1)" font-size="10.4" text-anchor="end" fill="#262626" >2</text>
<text transform="translate(17.9,748) scale(1.07,1) rotate(-90)" font-size="12.2" text-anchor="middle" fill="#262626">Absolute</text>
<text transform="translate(35.8,748) scale(1.07,1) rotate(-90)" font-size="12.2" text-anchor="middle" fill="#262626">Relative Difference (%)</text>
<text transform="translate(85.87,818.9) scale(1.17,1) rotate(-30)" font-size="10.75" text-anchor="end" fill="#262626" >Skeletal Muscle</text>
<text transform="translate(118.81,818.9) scale(1.17,1) rotate(-30)" font-size="10.75" text-anchor="end" fill="#262626" >MS#1</text>
<text transform="translate(151.76,818.9) scale(1.17,1) rotate(-30)" font-size="10.75" text-anchor="end" fill="#262626" >MS#2</text>
<text transform="translate(184.7,818.9) scale(1.17,1) rotate(-30)" font-size="10.75" text-anchor="end" fill="#262626" >MS#3</text>
<text transform="translate(217.64,818.9) scale(1.17,1) rotate(-30)" font-size="10.75" text-anchor="end" fill="#262626" >MS#H</text>
<text transform="translate(250.59,818.9) scale(1.17,1) rotate(-30)" font-size="10.75" text-anchor="end" fill="#262626" >CIRS Muscle</text>
<text transform="translate(283.53,818.9) scale(1.17,1) rotate(-30)" font-size="10.75" text-anchor="end" fill="#262626" >Gammex Muscle</text>
<text transform="translate(67.7,683.4) scale(1,1.1)" font-size="17.6" text-anchor="start" fill="#000" letter-spacing="0.3">(c.2)</text>
<line x1="378.97" y1="691.7" x2="378.97" y2="804.3" stroke="#ececec" stroke-width="1"/>
<line x1="411.91" y1="691.7" x2="411.91" y2="804.3" stroke="#ececec" stroke-width="1"/>
<line x1="444.86" y1="691.7" x2="444.86" y2="804.3" stroke="#ececec" stroke-width="1"/>
<line x1="477.8" y1="691.7" x2="477.8" y2="804.3" stroke="#ececec" stroke-width="1"/>
<line x1="510.74" y1="691.7" x2="510.74" y2="804.3" stroke="#ececec" stroke-width="1"/>
<line x1="543.69" y1="691.7" x2="543.69" y2="804.3" stroke="#ececec" stroke-width="1"/>
<line x1="576.63" y1="691.7" x2="576.63" y2="804.3" stroke="#ececec" stroke-width="1"/>
<line x1="362.5" y1="776.15" x2="593.1" y2="776.15" stroke="#ececec" stroke-width="1"/>
<line x1="362.5" y1="748" x2="593.1" y2="748" stroke="#ececec" stroke-width="1"/>
<line x1="362.5" y1="719.85" x2="593.1" y2="719.85" stroke="#ececec" stroke-width="1"/>
<rect x="365.79" y="804.3" width="26.35" height="0" fill="#ff0000" stroke="#1a1a1a" stroke-width="0.8"/>
<rect x="398.74" y="728.86" width="26.35" height="75.44" fill="#ff0000" stroke="#1a1a1a" stroke-width="0.8"/>
<rect x="431.68" y="739.56" width="26.35" height="64.74" fill="#ff0000" stroke="#1a1a1a" stroke-width="0.8"/>
<rect x="464.62" y="739.56" width="26.35" height="64.74" fill="#ff0000" stroke="#1a1a1a" stroke-width="0.8"/>
<rect x="497.57" y="787.97" width="26.35" height="16.33" fill="#ff0000" stroke="#1a1a1a" stroke-width="0.8"/>
<rect x="530.51" y="728.86" width="26.35" height="75.44" fill="#ff0000" stroke="#1a1a1a" stroke-width="0.8"/>
<rect x="563.45" y="739.56" width="26.35" height="64.74" fill="#ff0000" stroke="#1a1a1a" stroke-width="0.8"/>
<line x1="378.97" y1="804.3" x2="378.97" y2="801.8" stroke="#555555" stroke-width="0.9"/>
<line x1="378.97" y1="691.7" x2="378.97" y2="694.2" stroke="#555555" stroke-width="0.9"/>
<line x1="411.91" y1="804.3" x2="411.91" y2="801.8" stroke="#555555" stroke-width="0.9"/>
<line x1="411.91" y1="691.7" x2="411.91" y2="694.2" stroke="#555555" stroke-width="0.9"/>
<line x1="444.86" y1="804.3" x2="444.86" y2="801.8" stroke="#555555" stroke-width="0.9"/>
<line x1="444.86" y1="691.7" x2="444.86" y2="694.2" stroke="#555555" stroke-width="0.9"/>
<line x1="477.8" y1="804.3" x2="477.8" y2="801.8" stroke="#555555" stroke-width="0.9"/>
<line x1="477.8" y1="691.7" x2="477.8" y2="694.2" stroke="#555555" stroke-width="0.9"/>
<line x1="510.74" y1="804.3" x2="510.74" y2="801.8" stroke="#555555" stroke-width="0.9"/>
<line x1="510.74" y1="691.7" x2="510.74" y2="694.2" stroke="#555555" stroke-width="0.9"/>
<line x1="543.69" y1="804.3" x2="543.69" y2="801.8" stroke="#555555" stroke-width="0.9"/>
<line x1="543.69" y1="691.7" x2="543.69" y2="694.2" stroke="#555555" stroke-width="0.9"/>
<line x1="576.63" y1="804.3" x2="576.63" y2="801.8" stroke="#555555" stroke-width="0.9"/>
<line x1="576.63" y1="691.7" x2="576.63" y2="694.2" stroke="#555555" stroke-width="0.9"/>
<line x1="362.5" y1="804.3" x2="365" y2="804.3" stroke="#555555" stroke-width="0.9"/>
<line x1="593.1" y1="804.3" x2="590.6" y2="804.3" stroke="#555555" stroke-width="0.9"/>
<line x1="362.5" y1="776.15" x2="365" y2="776.15" stroke="#555555" stroke-width="0.9"/>
<line x1="593.1" y1="776.15" x2="590.6" y2="776.15" stroke="#555555" stroke-width="0.9"/>
<line x1="362.5" y1="748" x2="365" y2="748" stroke="#555555" stroke-width="0.9"/>
<line x1="593.1" y1="748" x2="590.6" y2="748" stroke="#555555" stroke-width="0.9"/>
<line x1="362.5" y1="719.85" x2="365" y2="719.85" stroke="#555555" stroke-width="0.9"/>
<line x1="593.1" y1="719.85" x2="590.6" y2="719.85" stroke="#555555" stroke-width="0.9"/>
<line x1="362.5" y1="691.7" x2="365" y2="691.7" stroke="#555555" stroke-width="0.9"/>
<line x1="593.1" y1="691.7" x2="590.6" y2="691.7" stroke="#555555" stroke-width="0.9"/>
<line x1="361.95" y1="691.7" x2="593.65" y2="691.7" stroke="#989898" stroke-width="1.5"/>
<line x1="361.95" y1="804.3" x2="593.65" y2="804.3" stroke="#989898" stroke-width="1.5"/>
<line x1="362.5" y1="691.7" x2="362.5" y2="804.3" stroke="#989898" stroke-width="1.1"/>
<line x1="593.1" y1="691.7" x2="593.1" y2="804.3" stroke="#989898" stroke-width="1.1"/>
<text transform="translate(411.91,726.86)" font-size="9.5" text-anchor="middle" fill="#262626" >1.34</text>
<text transform="translate(444.86,737.56)" font-size="9.5" text-anchor="middle" fill="#262626" >1.15</text>
<text transform="translate(477.8,737.56)" font-size="9.5" text-anchor="middle" fill="#262626" >1.15</text>
<text transform="translate(510.74,785.97)" font-size="9.5" text-anchor="middle" fill="#262626" >0.29</text>
<text transform="translate(543.69,726.86)" font-size="9.5" text-anchor="middle" fill="#262626" >1.34</text>
<text transform="translate(576.63,737.56)" font-size="9.5" text-anchor="middle" fill="#262626" >1.15</text>
<text transform="translate(357.6,808.6) scale(1.07,1)" font-size="10.4" text-anchor="end" fill="#262626" >0</text>
<text transform="translate(357.6,780.45) scale(1.07,1)" font-size="10.4" text-anchor="end" fill="#262626" >0.5</text>
<text transform="translate(357.6,752.3) scale(1.07,1)" font-size="10.4" text-anchor="end" fill="#262626" >1</text>
<text transform="translate(357.6,724.15) scale(1.07,1)" font-size="10.4" text-anchor="end" fill="#262626" >1.5</text>
<text transform="translate(357.6,696) scale(1.07,1)" font-size="10.4" text-anchor="end" fill="#262626" >2</text>
<text transform="translate(317.9,748) scale(1.07,1) rotate(-90)" font-size="12.2" text-anchor="middle" fill="#262626">Absolute</text>
<text transform="translate(335.8,748) scale(1.07,1) rotate(-90)" font-size="12.2" text-anchor="middle" fill="#262626">Relative Difference (%)</text>
<text transform="translate(385.87,818.9) scale(1.17,1) rotate(-30)" font-size="10.75" text-anchor="end" fill="#262626" >Skeletal Muscle</text>
<text transform="translate(418.81,818.9) scale(1.17,1) rotate(-30)" font-size="10.75" text-anchor="end" fill="#262626" >MS#1</text>
<text transform="translate(451.76,818.9) scale(1.17,1) rotate(-30)" font-size="10.75" text-anchor="end" fill="#262626" >MS#2</text>
<text transform="translate(484.7,818.9) scale(1.17,1) rotate(-30)" font-size="10.75" text-anchor="end" fill="#262626" >MS#3</text>
<text transform="translate(517.64,818.9) scale(1.17,1) rotate(-30)" font-size="10.75" text-anchor="end" fill="#262626" >MS#H</text>
<text transform="translate(550.59,818.9) scale(1.17,1) rotate(-30)" font-size="10.75" text-anchor="end" fill="#262626" >CIRS Muscle</text>
<text transform="translate(583.53,818.9) scale(1.17,1) rotate(-30)" font-size="10.75" text-anchor="end" fill="#262626" >Gammex Muscle</text>
<text transform="translate(364.2,679) scale(1,1.1)" font-size="17.6" text-anchor="start" fill="#000" letter-spacing="0.3">(d.2)</text>
</svg></body></html>
